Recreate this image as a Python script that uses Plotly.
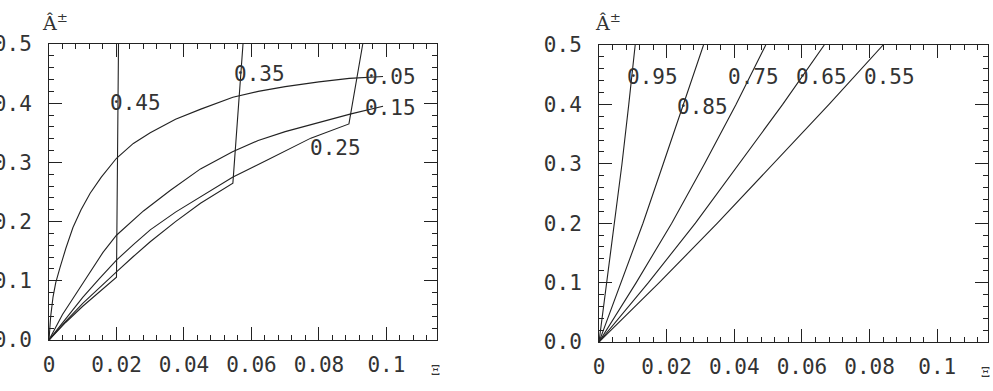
import plotly.graph_objects as go

# ---- Left panel data (Xi, A-hat) ----
L005_x = [0, 0.0005, 0.0012, 0.002, 0.0033, 0.005, 0.0071, 0.0095, 0.0122, 0.0155, 0.02, 0.025, 0.03,
          0.0375, 0.045, 0.0545, 0.062, 0.07, 0.08, 0.089, 0.099]
L005_y = [0, 0.04, 0.073, 0.097, 0.123, 0.155, 0.19, 0.22, 0.248, 0.275, 0.307, 0.332, 0.35,
          0.373, 0.39, 0.41, 0.42, 0.428, 0.436, 0.442, 0.445]
L015_x = [0, 0.004, 0.0071, 0.0122, 0.016, 0.02, 0.028, 0.036, 0.0449, 0.0544, 0.062, 0.07, 0.08, 0.0895, 0.099]
L015_y = [0, 0.043, 0.07, 0.115, 0.148, 0.177, 0.218, 0.253, 0.289, 0.318, 0.337, 0.352, 0.368, 0.382, 0.395]
L025_x = [0, 0.005, 0.01, 0.015, 0.02, 0.025, 0.03, 0.0375, 0.0449, 0.0544, 0.065, 0.0776, 0.0889, 0.093]
L025_y = [0, 0.037, 0.072, 0.104, 0.135, 0.161, 0.186, 0.216, 0.242, 0.275, 0.305, 0.341, 0.365, 0.5]
L035_x = [0, 0.005, 0.01, 0.015, 0.02, 0.025, 0.03, 0.0375, 0.0449, 0.0545, 0.0575]
L035_y = [0, 0.032, 0.062, 0.089, 0.115, 0.141, 0.166, 0.2, 0.231, 0.265, 0.5]
L045_x = [0, 0.005, 0.01, 0.015, 0.02, 0.0206]
L045_y = [0, 0.03, 0.057, 0.082, 0.106, 0.5]

left_series = [(L005_x, L005_y), (L015_x, L015_y), (L025_x, L025_y), (L035_x, L035_y), (L045_x, L045_y)]
left_labels = ["0.45", "0.35", "0.05", "0.15", "0.25"]
left_lab_x = [0.0256, 0.0624, 0.1013, 0.1013, 0.085]
left_lab_y = [0.40, 0.449, 0.444, 0.392, 0.324]

# ---- Right panel data ----
R_y = [0, 0.1, 0.2, 0.3, 0.4, 0.5]
R095_x = [0, 0.0023, 0.0046, 0.0068, 0.0088, 0.0107]
R085_x = [0, 0.0066, 0.0130, 0.0190, 0.0249, 0.0309]
R075_x = [0, 0.0110, 0.0215, 0.0312, 0.0405, 0.0493]
R065_x = [0, 0.0146, 0.0285, 0.0415, 0.0543, 0.0666]
R055_x = [0, 0.0178, 0.0350, 0.0515, 0.0680, 0.0840]

right_series = [(R095_x, R_y), (R085_x, R_y), (R075_x, R_y), (R065_x, R_y), (R055_x, R_y)]
right_labels = ["0.95", "0.85", "0.75", "0.65", "0.55"]
right_lab_x = [0.0158, 0.0306, 0.0458, 0.0657, 0.0859]
right_lab_y = [0.446, 0.396, 0.446, 0.446, 0.446]

W, H = 993, 391
FONT = "DejaVu Sans Mono"
INK = "#222222"
TXT = "#333333"
CLEAR = "rgba(0,0,0,0)"

fig = go.Figure()
for xs, ys in left_series:
    fig.add_trace(go.Scatter(x=xs, y=ys, mode="lines", line=dict(color=INK, width=1.1),
                             xaxis="x", yaxis="y", showlegend=False, hoverinfo="skip"))
for xs, ys in right_series:
    fig.add_trace(go.Scatter(x=xs, y=ys, mode="lines", line=dict(color=INK, width=1.1),
                             xaxis="x2", yaxis="y2", showlegend=False, hoverinfo="skip"))

def xmain(domain, anchor, mirror):
    return dict(domain=domain, anchor=anchor, range=[0, 0.115], dtick=0.02,
                ticks="inside", ticklen=13, tickcolor=INK,
                showline=True, linecolor=INK, mirror=mirror,
                gridcolor=CLEAR, zerolinecolor=CLEAR,
                ticklabelstandoff=6,
                tickfont=dict(family=FONT, size=21, color=TXT),
                minor=dict(dtick=0.004, ticks="inside", ticklen=5, tickcolor=INK, gridcolor=CLEAR))

def ymain(domain, anchor, mirror):
    return dict(domain=domain, anchor=anchor, range=[0, 0.5], dtick=0.1, tickformat=".1f",
                ticks="inside", ticklen=13, tickcolor=INK,
                showline=True, linecolor=INK, mirror=mirror,
                gridcolor=CLEAR, zerolinecolor=CLEAR,
                ticklabelstandoff=12,
                tickfont=dict(family=FONT, size=21, color=TXT),
                minor=dict(dtick=0.02, ticks="inside", ticklen=5, tickcolor=INK, gridcolor=CLEAR))

ann = []
for t, x, y in zip(left_labels, left_lab_x, left_lab_y):
    ann.append(dict(text=t, x=x, y=y, xref="x", yref="y", showarrow=False,
                    font=dict(family=FONT, size=21, color=TXT)))
for t, x, y in zip(right_labels, right_lab_x, right_lab_y):
    ann.append(dict(text=t, x=x, y=y, xref="x2", yref="y2", showarrow=False,
                    font=dict(family=FONT, size=21, color=TXT)))
for px in (40, 593):
    ann.append(dict(text="Â<sup>±</sup>", x=px / W, y=(H - 36) / H, xref="paper", yref="paper",
                    xanchor="left", yanchor="bottom", showarrow=False,
                    font=dict(family="DejaVu Serif", size=19, color=TXT)))
for px, py in ((435, 370), (985, 372)):
    ann.append(dict(text="Ξ", x=px / W, y=(H - py) / H, xref="paper", yref="paper",
                    xanchor="center", yanchor="middle", showarrow=False,
                    font=dict(family="DejaVu Serif", size=13, color=TXT)))

LX = [49 / W, 437 / W]
LY = [(H - 340) / H, (H - 44) / H]
RX = [599 / W, 988 / W]
RY = [(H - 342) / H, (H - 45) / H]

fig.update_layout(
    width=W, height=H, margin=dict(l=0, r=0, t=0, b=0, autoexpand=False),
    paper_bgcolor="white", plot_bgcolor="white",
    xaxis=xmain(LX, "y", "allticks"), yaxis=ymain(LY, "x", "allticks"),
    xaxis2=xmain(RX, "y2", "ticks"), yaxis2=ymain(RY, "x2", "ticks"),
    annotations=ann,
)

fig.write_html("out.html")
